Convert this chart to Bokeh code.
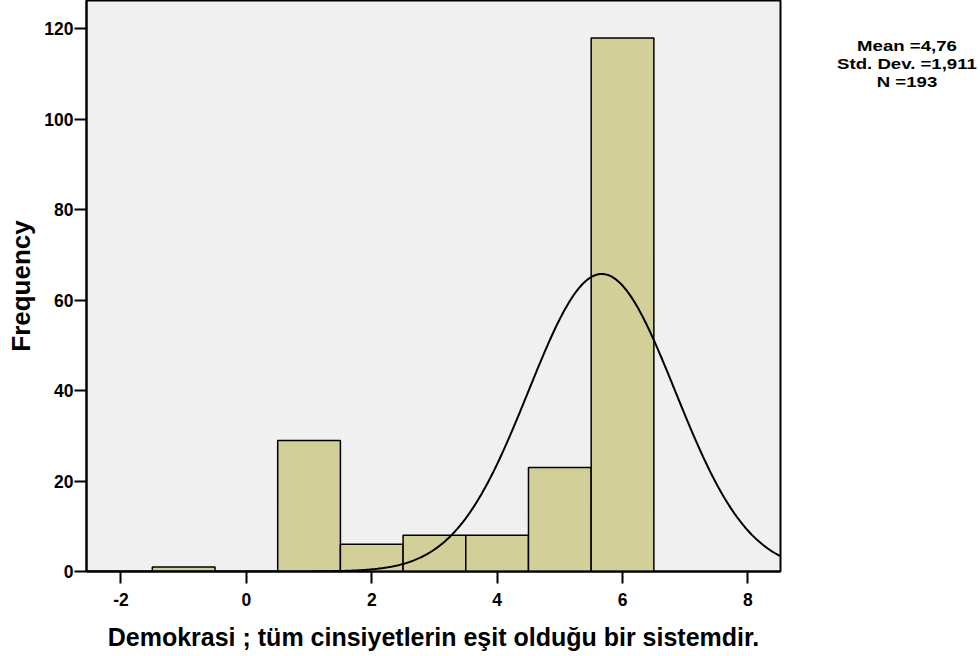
import numpy as np
from bokeh.plotting import figure
from bokeh.models import FixedTicker, Div
from bokeh.layouts import row
from bokeh.embed import file_html
from bokeh.resources import INLINE

# Data (bin centres and counts)
bin_centers = [-1, 0, 1, 2, 3, 4, 5, 6]
counts = [1, 0, 29, 6, 8, 8, 23, 118]
bin_width = 1.0

# Normal curve drawn in the reference (as plotted)
curve_mean = 5.67
curve_sd = 1.17
n_total = 193

stats_lines = ["Mean =4,76", "Std. Dev. =1,911", "N =193"]
x_ticks = [-2, 0, 2, 4, 6, 8]
y_ticks = [0, 20, 40, 60, 80, 100, 120]

x_label = "Demokrasi ; tüm cinsiyetlerin eşit olduğu bir sistemdir."
y_label = "Frequency"

FONT = "Liberation Sans"

p = figure(width=782, height=656, output_backend="svg", toolbar_location=None,
           x_range=(-2.55, 8.52), y_range=(0, 126.3),
           min_border_left=86, min_border_right=2, min_border_top=0,
           min_border_bottom=85)
p.background_fill_color = "#f0f0f0"
p.border_fill_color = "white"
p.outline_line_color = "black"
p.outline_line_width = 2
p.grid.visible = False

bars_x = [c for c, n in zip(bin_centers, counts) if n > 0]
bars_n = [n for n in counts if n > 0]
p.vbar(x=bars_x, top=bars_n, width=bin_width, bottom=0,
       fill_color="#d3cf98", line_color="black", line_width=1.5)

xs = np.linspace(-2.55, 8.52, 600)
ys = n_total * bin_width / (curve_sd * np.sqrt(2 * np.pi)) * np.exp(-0.5 * ((xs - curve_mean) / curve_sd) ** 2)
p.line(xs, ys, line_color="black", line_width=2)

for ax in (p.xaxis, p.yaxis):
    ax.axis_line_color = "black"
    ax.axis_line_width = 2
    ax.major_tick_line_width = 2
    ax.major_tick_line_color = "black"
    ax.major_tick_out = 12
    ax.major_tick_in = 0
    ax.minor_tick_line_color = None
    ax.major_label_text_font = FONT
    ax.major_label_text_font_style = "bold"
    ax.major_label_text_font_size = "17.5px"
    ax.major_label_text_color = "black"
    ax.axis_label_text_font = FONT
    ax.axis_label_text_font_style = "bold"
    ax.axis_label_text_color = "black"

p.xaxis.axis_label_text_font_size = "25px"
p.yaxis.axis_label_text_font_size = "26px"
p.xaxis.ticker = FixedTicker(ticks=x_ticks)
p.yaxis.ticker = FixedTicker(ticks=y_ticks)
p.xaxis.major_label_overrides = {t: str(t) for t in x_ticks}
p.xaxis.major_label_standoff = 9
p.yaxis.major_label_standoff = 1
p.xaxis.axis_label = x_label
p.yaxis.axis_label = y_label
p.xaxis.axis_label_standoff = 14
p.yaxis.axis_label_standoff = 5

stats_html = (
    '<div style="margin-left:51px;width:138px;padding-top:32px;text-align:center;'
    'white-space:nowrap;font-family:\'Liberation Sans\';font-weight:bold;'
    'font-size:15px;line-height:18px;color:black;transform:scaleX(1.24);'
    'transform-origin:50% 0;">'
    + "<br>".join(stats_lines) + "</div>"
)
stats = Div(text=stats_html, width=196, height=120)

layout = row(p, stats)
open("out.html", "w").write(file_html(layout, INLINE))
